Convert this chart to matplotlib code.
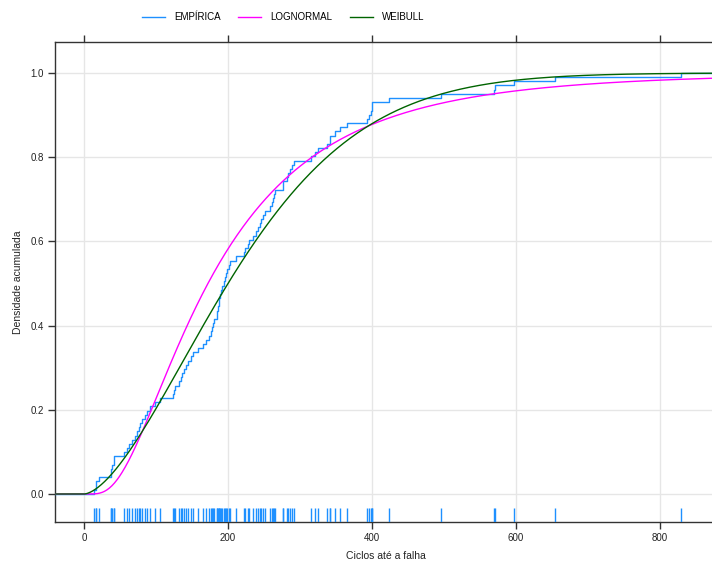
import math
import numpy as np
import matplotlib
matplotlib.use("Agg")
import matplotlib.pyplot as plt
from matplotlib.lines import Line2D

plt.rcParams['font.family'] = ['Liberation Sans', 'DejaVu Sans']

ciclos = [14, 16, 17, 20, 37, 38, 39, 41, 42, 55, 60, 63, 67, 71, 74, 76, 78, 81,
          85, 88, 92, 98, 105, 123, 125, 126, 132, 135, 136, 139, 142, 145, 148,
          151, 158, 165, 169, 174, 176, 178, 179, 180, 184, 185, 186, 187, 188,
          189, 190, 192, 195, 196, 197, 198, 201, 203, 211, 222, 224, 227, 229,
          234, 239, 242, 244, 246, 249, 251, 258, 261, 263, 264, 265, 276, 277,
          282, 283, 286, 289, 292, 315, 321, 325, 337, 341, 342, 349, 356, 365,
          393, 396, 398, 400, 400, 423, 496, 569, 571, 598, 654, 830]

# parametros ajustados (estimados da figura)
lnorm_median = 172.0
lnorm_sigma = 0.725
weib_shape = 1.61
weib_scale = 251.0

xticks = [0, 200, 400, 600, 800]
yticks = [0.0, 0.2, 0.4, 0.6, 0.8, 1.0]
ytick_labels = ["0.0", "0.2", "0.4", "0.6", "0.8", "1.0"]

legend_labels = ["EMPÍRICA", "LOGNORMAL", "WEIBULL"]
colors = ["#1E90FF", "#FF00FF", "#006400"]

xmin, xmax = -40.5, 878
ymin, ymax = -0.0665, 1.0736

W, H = 712, 563
fig = plt.figure(figsize=(W / 100, H / 100), dpi=100)
ax = fig.add_axes([55 / W, (H - 522) / H, (716 - 55) / W, (522 - 42) / H])

# grade
for t in xticks:
    ax.axvline(t, color="#e6e6e6", lw=1, zorder=0)
for t in yticks:
    ax.axhline(t, color="#e6e6e6", lw=1, zorder=0)

# empirica
x = np.sort(np.array(ciclos, dtype=float))
n = len(x)
xs = np.concatenate([[xmin], x, [xmax]])
ys = np.concatenate([[0.0], np.arange(1, n + 1) / n, [1.0]])
ax.plot(xs, ys, drawstyle="steps-post", color=colors[0], lw=1, zorder=3)

# teoricas
xx = np.linspace(xmin, xmax, 800)
pos = np.clip(xx, 1e-9, None)
ln_cdf = np.array([0.5 * (1 + math.erf(math.log(v / lnorm_median) / (lnorm_sigma * math.sqrt(2))))
                   for v in pos])
ln_cdf[xx <= 0] = 0
wb_cdf = 1 - np.exp(-(pos / weib_scale) ** weib_shape)
wb_cdf[xx <= 0] = 0
ax.plot(xx, ln_cdf, color=colors[1], lw=1, zorder=4)
ax.plot(xx, wb_cdf, color=colors[2], lw=1, zorder=5)

# rug
ax.vlines(x, 0, 0.029, transform=ax.get_xaxis_transform(), color=colors[0], lw=1, zorder=3)

ax.set_xlim(xmin, xmax)
ax.set_ylim(ymin, ymax)
ax.set_xticks(xticks)
ax.set_yticks(yticks)
ax.set_yticklabels(ytick_labels)
ax.tick_params(direction="out", length=5, width=1, colors="#333333", labelsize=7,
               labelcolor="#222222", top=True, right=False, pad=3)
for s in ax.spines.values():
    s.set_color("#333333")
    s.set_linewidth(1)

ax.set_xlabel("Ciclos até a falha", fontsize=7.5, color="#222222", labelpad=6)
ax.set_ylabel("Densidade acumulada", fontsize=7.5, color="#222222", labelpad=5)

handles = [Line2D([], [], color=c, lw=1) for c in colors]
fig.legend(handles, legend_labels, loc="center", bbox_to_anchor=(283 / W, 1 - 17 / H),
           ncol=3, frameon=False, fontsize=7, handlelength=2.4, handletextpad=0.9,
           columnspacing=1.8)

fig.savefig("out.png", dpi=100)
